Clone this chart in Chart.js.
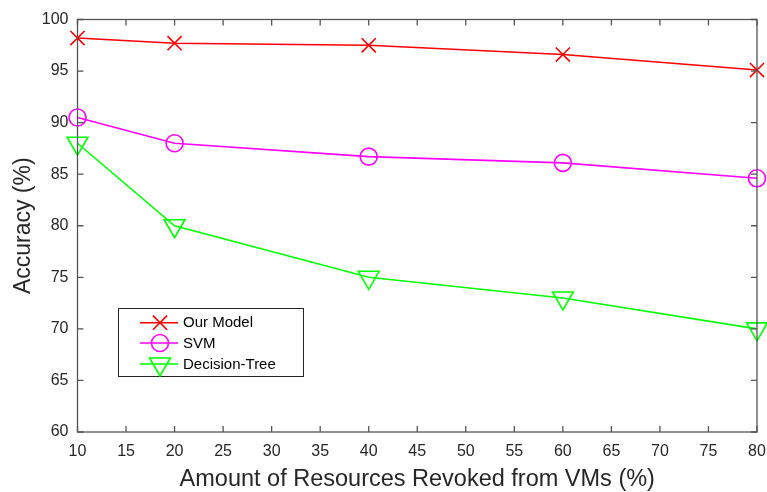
<!DOCTYPE html>
<html>
<head>
<meta charset="utf-8">
<script src="https://cdn.jsdelivr.net/npm/chart.js@4/dist/chart.umd.min.js"></script>
<style>
  html, body { margin: 0; padding: 0; background: #fff; }
  #wrap { width: 767px; height: 492px; position: relative; }
</style>
</head>
<body>
<div id="wrap"><canvas id="chart"></canvas></div>
<script>
// values
const revoked = [10, 20, 40, 60, 80];
const ourModel = [98.2, 97.7, 97.5, 96.6, 95.1];
const svm = [90.5, 88.0, 86.7, 86.1, 84.6];
const decisionTree = [88.0, 80.0, 75.0, 73.0, 70.0];
const seriesNames = ["Our Model", "SVM", "Decision-Tree"];

const FONT = "'Liberation Sans', Arial, Helvetica, sans-serif";
const AXIS_COLOR = "#262626";

function toPoints(ys) {
  return revoked.map((x, i) => ({ x: x, y: ys[i] }));
}

// box round the plot with inward ticks on all four sides (MATLAB style)
const boxPlugin = {
  id: "boxPlugin",
  afterDatasetsDraw(chart) {
    const ctx = chart.ctx;
    const a = chart.chartArea;
    const xs = chart.scales.x;
    const ys = chart.scales.y;
    const tl = 6;
    ctx.save();
    ctx.strokeStyle = "#555";
    ctx.lineWidth = 1.3;
    ctx.strokeRect(a.left, a.top, a.right - a.left, a.bottom - a.top);
    ctx.beginPath();
    xs.ticks.forEach(t => {
      const px = xs.getPixelForValue(t.value);
      ctx.moveTo(px, a.bottom); ctx.lineTo(px, a.bottom - tl);
      ctx.moveTo(px, a.top); ctx.lineTo(px, a.top + tl);
    });
    ys.ticks.forEach(t => {
      const py = ys.getPixelForValue(t.value);
      ctx.moveTo(a.left, py); ctx.lineTo(a.left + tl, py);
      ctx.moveTo(a.right, py); ctx.lineTo(a.right - tl, py);
    });
    ctx.stroke();
    ctx.restore();
  },
  afterDraw(chart) {
    // legend box, lower left inside the plot
    const ctx = chart.ctx;
    const bx = 118, by = 308, bw = 185, bh = 68;
    const rows = [322.7, 343, 364];
    ctx.save();
    ctx.fillStyle = "#fff";
    ctx.fillRect(bx, by, bw, bh);
    ctx.strokeStyle = AXIS_COLOR;
    ctx.lineWidth = 1;
    ctx.strokeRect(bx + 0.5, by + 0.5, bw, bh);
    chart.data.datasets.forEach((ds, i) => {
      const y = rows[i];
      ctx.strokeStyle = ds.borderColor;
      ctx.lineWidth = ds.borderWidth;
      ctx.beginPath();
      ctx.moveTo(140, y);
      ctx.lineTo(178, y);
      ctx.stroke();
      ctx.lineWidth = ds.pointBorderWidth;
      ctx.fillStyle = "rgba(0,0,0,0)";
      Chart.helpers.drawPoint(ctx, {
        pointStyle: ds.pointStyle,
        radius: ds.pointRadius,
        rotation: ds.pointRotation || 0,
        borderWidth: ds.pointBorderWidth
      }, 160, y);
      ctx.fillStyle = "#000";
      ctx.font = "15px " + FONT;
      ctx.textBaseline = "middle";
      ctx.textAlign = "left";
      ctx.fillText(ds.label, 183, y + 0.5);
    });
    ctx.restore();
  }
};

new Chart(document.getElementById("chart"), {
  type: "line",
  data: {
    datasets: [
      {
        label: seriesNames[0],
        data: toPoints(ourModel),
        borderColor: "#ff0000",
        borderWidth: 1.6,
        pointStyle: "crossRot",
        pointRadius: 10,
        pointBorderWidth: 1.6,
        pointBorderColor: "#ff0000",
        pointBackgroundColor: "rgba(0,0,0,0)"
      },
      {
        label: seriesNames[1],
        data: toPoints(svm),
        borderColor: "#ff00ff",
        borderWidth: 1.6,
        pointStyle: "circle",
        pointRadius: 8.5,
        pointBorderWidth: 1.6,
        pointBorderColor: "#ff00ff",
        pointBackgroundColor: "rgba(0,0,0,0)"
      },
      {
        label: seriesNames[2],
        data: toPoints(decisionTree),
        borderColor: "#00ff00",
        borderWidth: 1.6,
        pointStyle: "triangle",
        pointRotation: 180,
        pointRadius: 12,
        pointBorderWidth: 1.6,
        pointBorderColor: "#00ff00",
        pointBackgroundColor: "rgba(0,0,0,0)"
      }
    ]
  },
  options: {
    responsive: true,
    maintainAspectRatio: false,
    animation: false,
    clip: false,
    layout: { autoPadding: false, padding: { top: 19.5, right: 0, left: 0, bottom: 0 } },
    plugins: {
      legend: { display: false },
      tooltip: { enabled: false }
    },
    scales: {
      x: {
        type: "linear",
        min: 10,
        max: 80,
        afterFit: s => { s.height = 60; s.paddingLeft = 0; s.paddingRight = 10; },
        grid: { display: false, drawTicks: false },
        border: { display: false },
        ticks: {
          stepSize: 5,
          autoSkip: false,
          maxRotation: 0,
          padding: 9.5,
          color: AXIS_COLOR,
          font: { family: FONT, size: 16 }
        },
        title: {
          display: true,
          text: "Amount of Resources Revoked from VMs (%)",
          color: AXIS_COLOR,
          font: { family: FONT, size: 23.5, lineHeight: 1.1 },
          padding: { top: 0, bottom: 0 }
        }
      },
      y: {
        min: 60,
        max: 100,
        afterFit: s => { s.width = 77.5; },
        grid: { display: false, drawTicks: false },
        border: { display: false },
        ticks: {
          stepSize: 5,
          padding: 9,
          color: AXIS_COLOR,
          font: { family: FONT, size: 16 }
        },
        title: {
          display: true,
          text: "Accuracy (%)",
          color: AXIS_COLOR,
          font: { family: FONT, size: 23 },
          padding: { top: 10, bottom: 0 }
        }
      }
    }
  },
  plugins: [boxPlugin]
});
</script>
</body>
</html>
